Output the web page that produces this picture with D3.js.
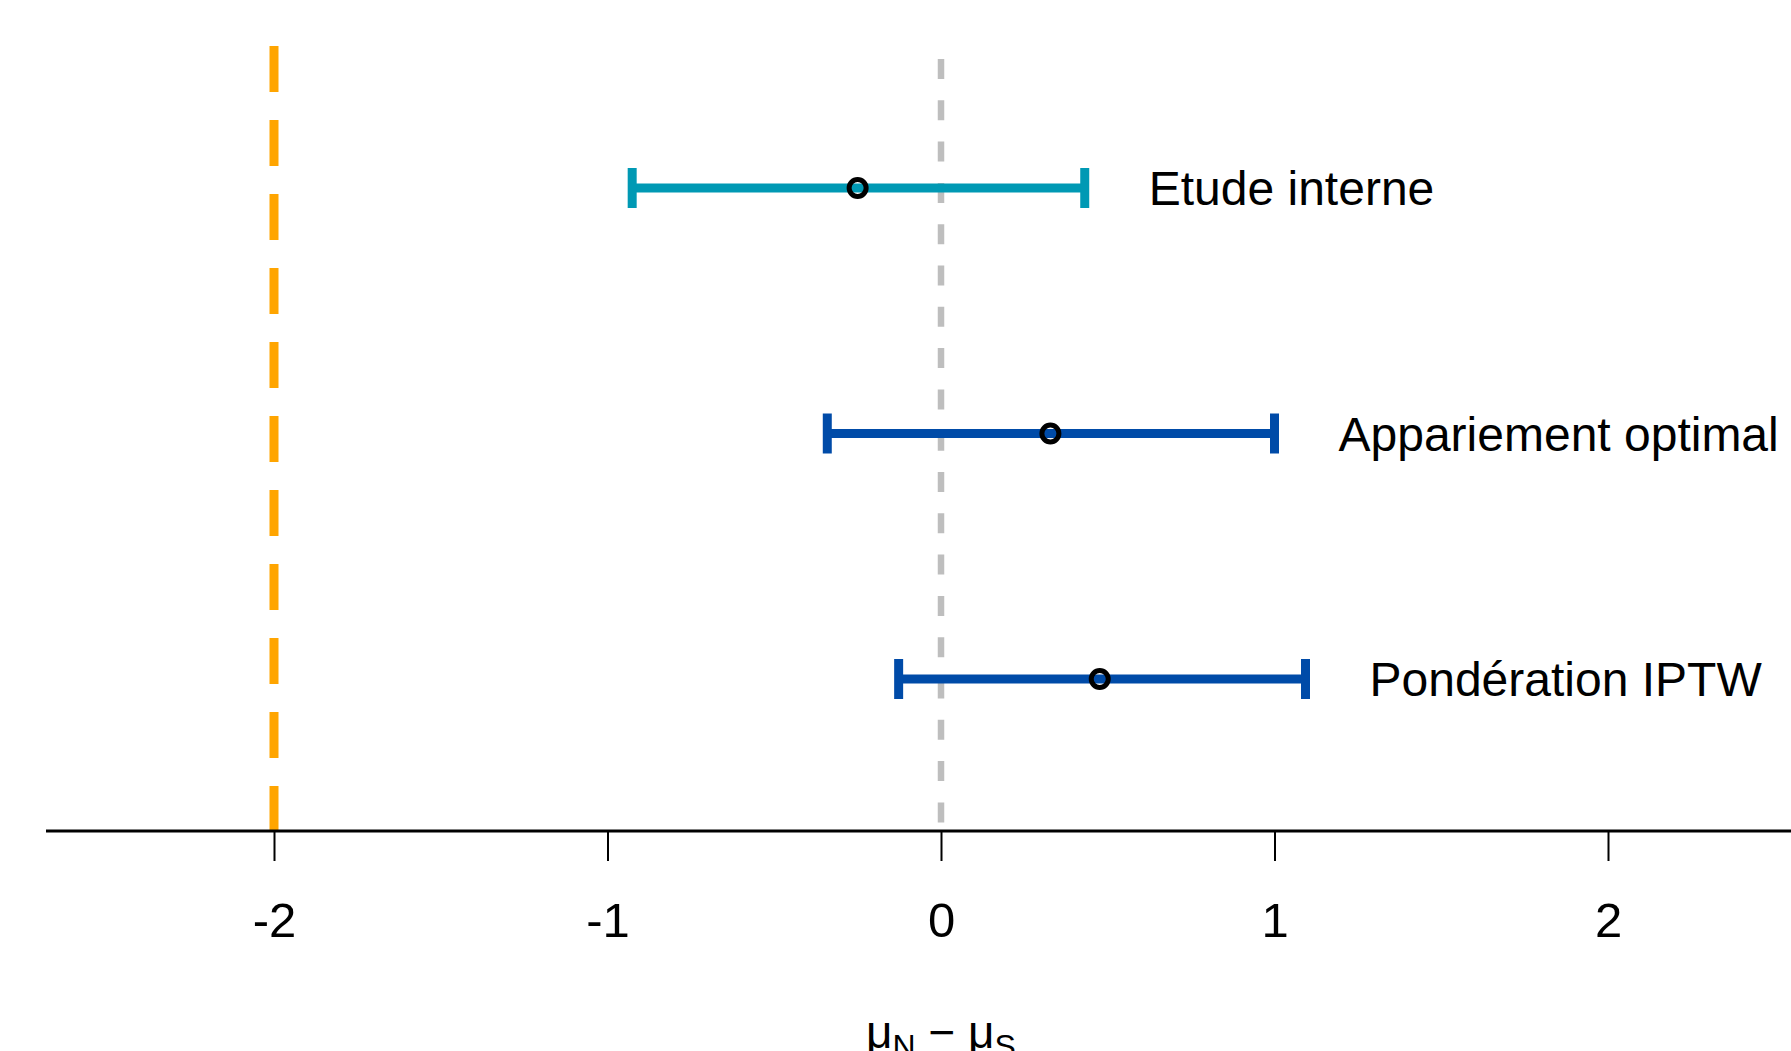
<!DOCTYPE html>
<html>
<head>
<meta charset="utf-8">
<script src="https://cdn.jsdelivr.net/npm/d3@7"></script>
<style>
  html, body { margin: 0; padding: 0; background: #fff; }
  svg { display: block; font-family: "Liberation Sans", Arial, sans-serif; }
</style>
</head>
<body>
<svg id="chart"></svg>
<script>
// chart values
const methods = ['Etude interne', 'Appariement optimal', 'Pondération IPTW'];
const estimates = [-0.25, 0.328, 0.476];
const lowerBounds = [-0.926, -0.341, -0.127];
const upperBounds = [0.431, 1.0, 1.093];
const methodColors = ['#0099b4', '#004ba8', '#004ba8'];
const xTicks = [-2, -1, 0, 1, 2];
const referenceLines = [
  { value: -2, color: '#ffa500' },
  { value: 0, color: '#bebebe' }
];

const width = 1791;
const height = 1051;
const axisY = 831;

const svg = d3.select('#chart')
  .attr('width', width)
  .attr('height', height);

// x: effect difference, y: one row per method
const x = d3.scaleLinear().domain([-2, 2]).range([274, 1608]);
const y = d3.scalePoint().domain(methods).range([188, 679]);

const rows = methods.map((m, i) => ({
  method: m,
  est: estimates[i],
  lo: lowerBounds[i],
  hi: upperBounds[i],
  color: methodColors[i]
}));

// vertical reference lines (orange at -2, grey at 0)
svg.append('line')
  .attr('x1', x(referenceLines[0].value)).attr('x2', x(referenceLines[0].value))
  .attr('y1', 46).attr('y2', axisY)
  .attr('stroke', referenceLines[0].color)
  .attr('stroke-width', 9)
  .attr('stroke-dasharray', '46 28');

svg.append('line')
  .attr('x1', x(referenceLines[1].value)).attr('x2', x(referenceLines[1].value))
  .attr('y1', 59).attr('y2', axisY)
  .attr('stroke', referenceLines[1].color)
  .attr('stroke-width', 6.5)
  .attr('stroke-dasharray', '20 21.3');

// x axis
const axis = d3.axisBottom(x)
  .tickValues(xTicks)
  .tickFormat(d3.format('d'))
  .tickSize(30)
  .tickSizeOuter(0)
  .tickPadding(41);

const axisG = svg.append('g')
  .attr('transform', `translate(0,${axisY})`)
  .call(axis);
axisG.select('.domain').remove();
axisG.selectAll('.tick line').attr('stroke', '#000').attr('stroke-width', 2);
axisG.selectAll('.tick text')
  .attr('fill', '#000')
  .style('font-size', '49px')
  .style('font-family', '"Liberation Sans", Arial, sans-serif')
  .text(d => d < 0 ? '-' + Math.abs(d) : d);

// baseline of the axis runs past both end ticks
svg.append('line')
  .attr('x1', 46).attr('x2', width)
  .attr('y1', axisY).attr('y2', axisY)
  .attr('stroke', '#000')
  .attr('stroke-width', 2.8);

// intervals
const g = svg.append('g').attr('class', 'intervals');
const row = g.selectAll('g').data(rows).enter().append('g');

row.append('line')
  .attr('x1', d => x(d.lo)).attr('x2', d => x(d.hi))
  .attr('y1', d => y(d.method)).attr('y2', d => y(d.method))
  .attr('stroke', d => d.color)
  .attr('stroke-width', 9);

['lo', 'hi'].forEach(k => {
  row.append('line')
    .attr('x1', d => x(d[k])).attr('x2', d => x(d[k]))
    .attr('y1', d => y(d.method) - 20).attr('y2', d => y(d.method) + 20)
    .attr('stroke', d => d.color)
    .attr('stroke-width', 9);
});

row.append('circle')
  .attr('cx', d => x(d.est))
  .attr('cy', d => y(d.method))
  .attr('r', 8.5)
  .attr('fill', 'none')
  .attr('stroke', '#000')
  .attr('stroke-width', 5);

row.append('text')
  .attr('x', d => x(d.hi) + 64)
  .attr('y', d => y(d.method) + 17)
  .style('font-size', '48px')
  .attr('fill', '#000')
  .text(d => d.method);

// x axis title: mu_N - mu_S
const title = svg.append('text')
  .attr('x', x(0))
  .attr('y', 1048)
  .attr('text-anchor', 'middle')
  .style('font-size', '46px')
  .attr('fill', '#000');
title.append('tspan').text('μ');
title.append('tspan').attr('dy', 9).style('font-size', '32px').text('N');
title.append('tspan').attr('dy', -9).text(' − μ');
title.append('tspan').attr('dy', 9).style('font-size', '32px').text('S');
</script>
</body>
</html>
